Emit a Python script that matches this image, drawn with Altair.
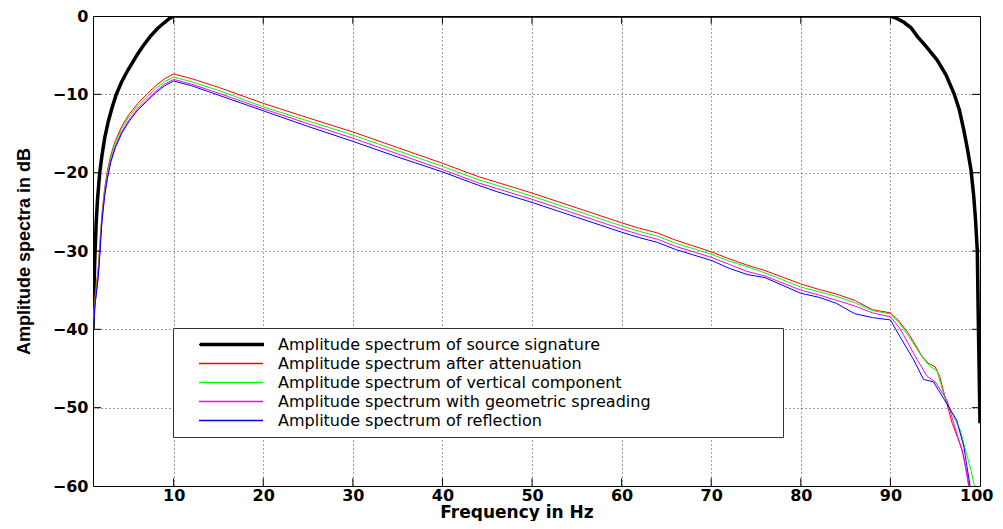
import altair as alt
import pandas as pd

SERIES = [
    "Amplitude spectrum of source signature",
    "Amplitude spectrum after attenuation",
    "Amplitude spectrum of vertical component",
    "Amplitude spectrum with geometric spreading",
    "Amplitude spectrum of reflection",
]
COLORS = ["#000000", "#ff0000", "#00ff00", "#ff00ff", "#0000ff"]
WIDTHS = [3.5, 1.0, 1.0, 1.0, 1.0]

X_TICKS = [10, 20, 30, 40, 50, 60, 70, 80, 90, 100]
Y_TICKS = [-60, -50, -40, -30, -20, -10, 0]
X_MIN, X_MAX = 1, 100
Y_MIN, Y_MAX = -60, 0

# source signature (black)
SRC_F = [1.0, 1.1, 1.2, 1.35, 1.5, 1.75, 2.0, 2.3, 2.7, 3.1, 3.6, 4.2, 4.9, 5.9, 6.6, 7.4,
         8.2, 8.9, 9.5, 10.0, 90.0, 90.7, 91.5, 92.3, 93.0, 94.0, 95.2, 96.2, 97.1, 97.7,
         98.2, 98.6, 99.0, 99.3, 99.5, 99.7, 99.8, 99.9, 100.0]
SRC_A = [-40.0, -35.0, -31.0, -26.5, -23.5, -20.0, -17.8, -15.6, -13.5, -11.8, -10.0, -8.4,
         -6.9, -5.0, -3.8, -2.6, -1.6, -0.9, -0.35, 0.0, 0.0, -0.3, -0.8, -1.5, -2.6, -3.9,
         -5.6, -7.5, -9.9, -12.0, -14.6, -17.0, -19.7, -23.0, -26.0, -30.0, -38.0, -45.0, -52.0]

# common frequency grid for the processed spectra (1..90 Hz)
GRID = [1.0, 1.2, 1.4, 1.6, 1.8, 2.0, 2.3, 2.6, 3.0, 3.5, 4.2, 5.0, 6.0, 7.0, 8.0, 9.0, 10.0,
        12, 15, 20, 25, 30, 35, 40, 44, 46, 48, 50, 55, 60, 62, 64, 66, 70, 72, 74, 76, 80,
        82, 84, 86, 88, 90]

RED_A = [-39.0, -36.0, -34.0, -32.0, -28.5, -25.2, -22.0, -19.8, -17.7, -15.9, -14.1, -12.6,
         -11.15, -10.0, -8.9, -8.0, -7.4,
         -8.0, -9.1, -11.15, -13.0, -14.8, -16.8, -18.8, -20.5, -21.2, -21.9, -22.6, -24.5,
         -26.4, -27.1, -27.7, -28.6, -30.1, -31.0, -31.8, -32.5, -34.2, -34.9, -35.5, -36.3,
         -37.5, -37.9]
GREEN_A = [-39.5, -36.5, -34.5, -32.5, -29.0, -25.6, -22.4, -20.2, -18.0, -16.2, -14.4, -12.9,
           -11.45, -10.35, -9.25, -8.35, -7.8,
           -8.4, -9.5, -11.6, -13.4, -15.2, -17.2, -19.2, -20.9, -21.6, -22.3, -23.0, -24.9,
           -26.8, -27.5, -28.1, -29.0, -30.4, -31.3, -32.0, -32.8, -34.6, -35.2, -35.8, -36.6,
           -37.6, -38.05]
MAG_A = [-40.0, -37.0, -35.0, -33.0, -29.5, -26.0, -22.8, -20.6, -18.4, -16.6, -14.8, -13.3,
         -11.8, -10.7, -9.6, -8.7, -8.1,
         -8.7, -9.85, -11.85, -13.75, -15.6, -17.6, -19.6, -21.3, -22.0, -22.7, -23.4, -25.3,
         -27.2, -27.9, -28.5, -29.4, -30.8, -31.7, -32.6, -33.2, -35.0, -35.6, -36.3, -37.0,
         -37.9, -38.4]
BLUE_A = [-40.2, -37.2, -35.2, -33.2, -29.8, -26.3, -23.0, -20.8, -18.6, -16.8, -15.0, -13.5,
          -12.0, -10.9, -9.8, -8.9, -8.3,
          -8.9, -10.1, -12.1, -14.1, -16.0, -18.0, -19.9, -21.6, -22.4, -23.1, -23.8, -25.7,
          -27.6, -28.3, -28.9, -29.8, -31.2, -32.2, -33.0, -33.4, -35.4, -35.9, -36.7, -38.0,
          -38.5, -38.8]

# tails above 90 Hz
RED_TF = [91, 92, 93, 93.5, 94.2, 95, 95.5, 96, 96.9, 97.5, 98, 98.5, 98.8, 99.2]
RED_TA = [-39.0, -40.5, -42.4, -43.4, -44.3, -44.8, -46.0, -48.2, -52.0, -53.8, -55.4, -58.2,
          -60.2, -63.0]
GREEN_TF = [91, 92, 93, 93.7, 94.5, 95.2, 96.1, 97, 97.8, 98.5, 99, 99.4, 99.7]
GREEN_TA = [-39.2, -40.8, -42.6, -43.8, -44.8, -45.3, -48.8, -51.0, -52.9, -55.9, -58.0,
            -60.1, -63.0]
MAG_TF = [91, 91.5, 93, 94.1, 95, 96.3, 97.2, 98.2, 98.75, 99.1]
MAG_TA = [-39.8, -40.8, -43.9, -46.0, -46.7, -49.0, -52.5, -56.3, -60.1, -63.0]
BLUE_TF = [91.1, 92.6, 93.7, 94.8, 96.3, 97.4, 98.2, 98.9, 99.2]
BLUE_TA = [-41.0, -43.9, -46.4, -46.7, -49.5, -51.6, -55.0, -60.1, -63.0]

rows = []
for f, a in zip(SRC_F, SRC_A):
    rows.append({"series": SERIES[0], "f": f, "a": a})
for name, main, tf, ta in [
    (SERIES[1], RED_A, RED_TF, RED_TA),
    (SERIES[2], GREEN_A, GREEN_TF, GREEN_TA),
    (SERIES[3], MAG_A, MAG_TF, MAG_TA),
    (SERIES[4], BLUE_A, BLUE_TF, BLUE_TA),
]:
    for f, a in zip(GRID + tf, main + ta):
        rows.append({"series": name, "f": f, "a": a})
df = pd.DataFrame(rows)
df["weight"] = df["series"]

# inward tick marks (MATLAB style)
xt_rows = []
for t in X_TICKS[:-1]:
    xt_rows.append({"f": t, "a": Y_MIN, "a2": Y_MIN + 1.0})
    xt_rows.append({"f": t, "a": Y_MAX, "a2": Y_MAX - 1.0})
yt_rows = []
for t in Y_TICKS[1:-1]:
    yt_rows.append({"a": t, "f": X_MIN, "f2": X_MIN + 0.9})
    yt_rows.append({"a": t, "f": X_MAX, "f2": X_MAX - 0.9})
xt = pd.DataFrame(xt_rows)
yt = pd.DataFrame(yt_rows)

xscale = alt.Scale(domain=[X_MIN, X_MAX], nice=False, zero=False)
yscale = alt.Scale(domain=[Y_MIN, Y_MAX], nice=False, zero=False)

XAXIS = alt.Axis(
    values=X_TICKS, title="Frequency in Hz", grid=True, ticks=False, domain=False,
    labelPadding=1, labelFlush=1, labelFlushOffset=13,
    titleX=423.5, titleY=18, titleAlign="center",
    titleFont="DejaVu Sans", titleFontSize=17,
)
YAXIS = alt.Axis(
    values=Y_TICKS, title="Amplitude spectra in dB", grid=True, ticks=False, domain=False,
    labelPadding=5, labelFlush=False, titleX=-60, titleY=235, titleAngle=270,
    titleAlign="center", titleBaseline="bottom",
    titleFont="Liberation Sans", titleFontSize=18,
)

PAD = "\u2800" * 15
label_expr = "datum.value == '" + SERIES[0] + "' ? datum.label + '" + PAD + "' : datum.label"

color_legend = alt.Legend(
    title=None, orient="none", legendX=80, legendY=312,
    fillColor="white", strokeColor="#333333", padding=7,
    symbolType="stroke", symbolSize=4096, symbolOffset=18, symbolStrokeWidth=1.5,
    labelOffset=14, clipHeight=19, rowPadding=0,
    labelFont="DejaVu Sans", labelFontSize=16, labelColor="black",
    labelLimit=1200, labelExpr=label_expr,
)
# overlay legend that only thickens the source-signature symbol
width_legend = alt.Legend(
    title=None, orient="none", legendX=80, legendY=312, values=[SERIES[0]],
    padding=7, symbolType="stroke", symbolSize=4096, symbolOffset=18,
    symbolStrokeColor="black", labelOffset=14, clipHeight=19, rowPadding=0,
    labelFont="DejaVu Sans", labelFontSize=16, labelExpr="''",
)

lines = alt.Chart(df).mark_line(clip=True).encode(
    x=alt.X("f:Q", scale=xscale, axis=XAXIS, title="Frequency in Hz"),
    y=alt.Y("a:Q", scale=yscale, axis=YAXIS, title="Amplitude spectra in dB"),
    color=alt.Color("series:N", scale=alt.Scale(domain=SERIES, range=COLORS),
                    legend=color_legend),
    strokeWidth=alt.StrokeWidth("weight:N",
                                scale=alt.Scale(type="ordinal", domain=SERIES[::-1],
                                                range=WIDTHS[::-1]),
                                legend=width_legend),
    detail="series:N",
)

xticks = alt.Chart(xt).mark_rule(color="black", strokeWidth=1).encode(
    x=alt.X("f:Q", scale=xscale, axis=XAXIS, title="Frequency in Hz"),
    y=alt.Y("a:Q", scale=yscale, axis=YAXIS, title="Amplitude spectra in dB"),
    y2="a2:Q",
)
yticks = alt.Chart(yt).mark_rule(color="black", strokeWidth=1).encode(
    y=alt.Y("a:Q", scale=yscale, axis=YAXIS, title="Amplitude spectra in dB"),
    x=alt.X("f:Q", scale=xscale, axis=XAXIS, title="Frequency in Hz"),
    x2="f2:Q",
)

chart = alt.layer(lines, xticks, yticks).properties(
    width=887, height=470,
    autosize=alt.AutoSizeParams(type="none"),
    padding={"left": 85, "top": 8, "right": 15, "bottom": 35},
    background="white",
).configure_view(
    stroke="black", strokeWidth=1,
).configure_axis(
    labelFont="DejaVu Sans", labelFontSize=16, labelFontWeight="bold", labelColor="black",
    titleFontWeight="bold", titleColor="black",
    gridColor="#000000", gridDash=[1, 3], gridOpacity=0.75, gridWidth=1,
)

chart.save("out.html", embed_options={"renderer": "svg", "actions": False})
